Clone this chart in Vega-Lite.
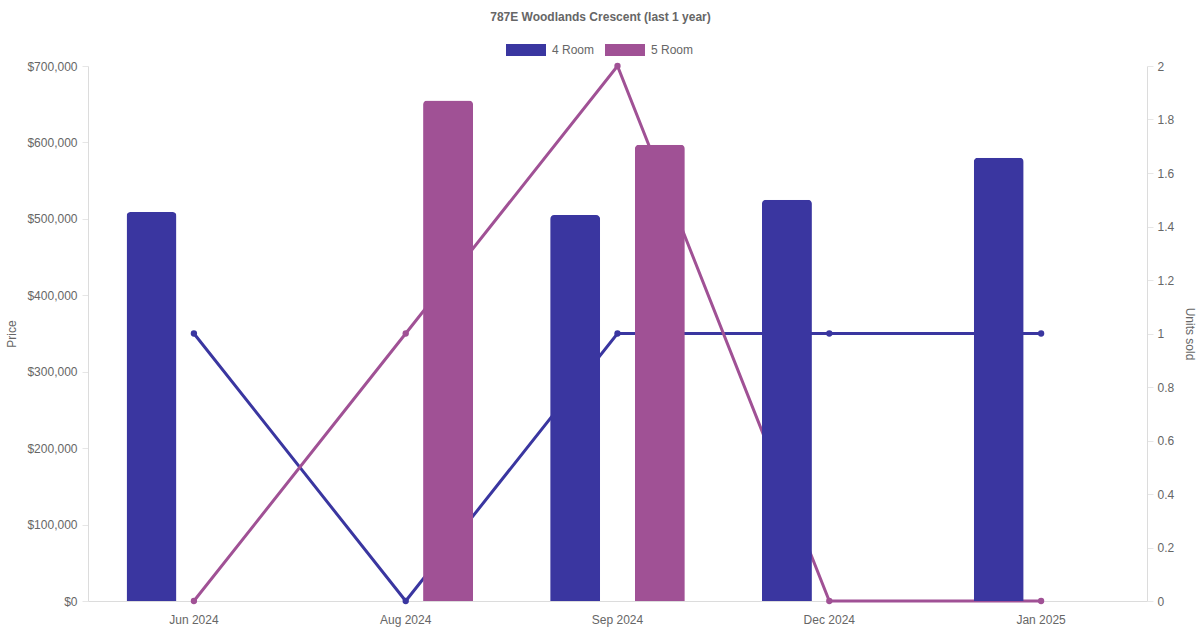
{
  "$schema": "https://vega.github.io/schema/vega-lite/v6.json",
  "width": 1059,
  "height": 535,
  "autosize": "none",
  "padding": {"left": 88, "top": 66, "right": 53, "bottom": 29},
  "background": "white",
  "title": {
    "text": "787E Woodlands Crescent (last 1 year)",
    "fontSize": 12,
    "fontWeight": "bold",
    "color": "#666",
    "anchor": "middle",
    "dx": -17,
    "offset": 6
  },
  "config": {
    "font": "Liberation Sans",
    "view": {"stroke": null},
    "axis": {
      "labelFontSize": 12,
      "labelColor": "#666",
      "titleFontSize": 12,
      "titleFontWeight": "normal",
      "titleColor": "#666",
      "gridColor": "#e6e6e6",
      "domainColor": "#dcdcdc",
      "tickColor": "#e6e6e6"
    }
  },
  "data": {
    "values": [
      {"month": "Jun 2024", "type": "4 Room", "price": 509000, "units": 1},
      {"month": "Jun 2024", "type": "5 Room", "price": null, "units": 0},
      {"month": "Aug 2024", "type": "4 Room", "price": null, "units": 0},
      {"month": "Aug 2024", "type": "5 Room", "price": 655000, "units": 1},
      {"month": "Sep 2024", "type": "4 Room", "price": 505000, "units": 1},
      {"month": "Sep 2024", "type": "5 Room", "price": 597000, "units": 2},
      {"month": "Dec 2024", "type": "4 Room", "price": 525000, "units": 1},
      {"month": "Dec 2024", "type": "5 Room", "price": null, "units": 0},
      {"month": "Jan 2025", "type": "4 Room", "price": 580000, "units": 1},
      {"month": "Jan 2025", "type": "5 Room", "price": null, "units": 0}
    ]
  },
  "encoding": {
    "x": {
      "field": "month",
      "type": "ordinal",
      "sort": ["Jun 2024", "Aug 2024", "Sep 2024", "Dec 2024", "Jan 2025"],
      "scale": {"paddingInner": 0.2, "paddingOuter": 0.1},
      "axis": {
        "title": null,
        "labelAngle": 0,
        "ticks": false,
        "labelPadding": 13,
        "grid": false
      }
    }
  },
  "layer": [
    {
      "mark": {
        "type": "line",
        "strokeWidth": 3,
        "point": {"filled": true, "size": 40}
      },
      "encoding": {
        "y": {
          "field": "units",
          "type": "quantitative",
          "scale": {"domain": [0, 2]},
          "axis": {
            "orient": "right",
            "title": "Units sold",
            "values": [0, 0.2, 0.4, 0.6, 0.8, 1, 1.2, 1.4, 1.6, 1.8, 2],
            "format": ".1~f",
            "grid": false,
            "tickSize": 6,
            "labelPadding": 4,
            "titlePadding": 9
          }
        },
        "color": {
          "field": "type",
          "type": "nominal",
          "scale": {"domain": ["4 Room", "5 Room"], "range": ["#3a36a0", "#a05195"]},
          "legend": null
        }
      }
    },
    {
      "transform": [{"filter": "datum.price != null"}],
      "mark": {"type": "bar", "cornerRadiusTopLeft": 4, "cornerRadiusTopRight": 4},
      "encoding": {
        "xOffset": {
          "field": "type",
          "type": "nominal",
          "scale": {"domain": ["4 Room", "5 Room"], "paddingInner": 0.41, "paddingOuter": 0.205}
        },
        "y": {
          "field": "price",
          "type": "quantitative",
          "scale": {"domain": [0, 700000]},
          "axis": {
            "orient": "left",
            "title": "Price",
            "values": [0, 100000, 200000, 300000, 400000, 500000, 600000, 700000],
            "format": "$,.0f",
            "tickSize": 6,
            "labelPadding": 5,
            "titlePadding": 8
          }
        },
        "color": {
          "field": "type",
          "type": "nominal",
          "scale": {"domain": ["4 Room", "5 Room"], "range": ["#3a36a0", "#a05195"]},
          "legend": {
            "orient": "none",
            "legendX": 418,
            "legendY": -36,
            "direction": "horizontal",
            "title": null,
            "symbolType": "M-1,-0.3L1,-0.3L1,0.3L-1,0.3Z",
            "symbolSize": 1600,
            "symbolStrokeWidth": 0,
            "symbolOpacity": 1,
            "labelFontSize": 12,
            "labelColor": "#666",
            "labelOffset": 6,
            "columnPadding": 10
          }
        }
      }
    }
  ],
  "resolve": {"scale": {"y": "independent"}, "legend": {"color": "independent"}}
}
